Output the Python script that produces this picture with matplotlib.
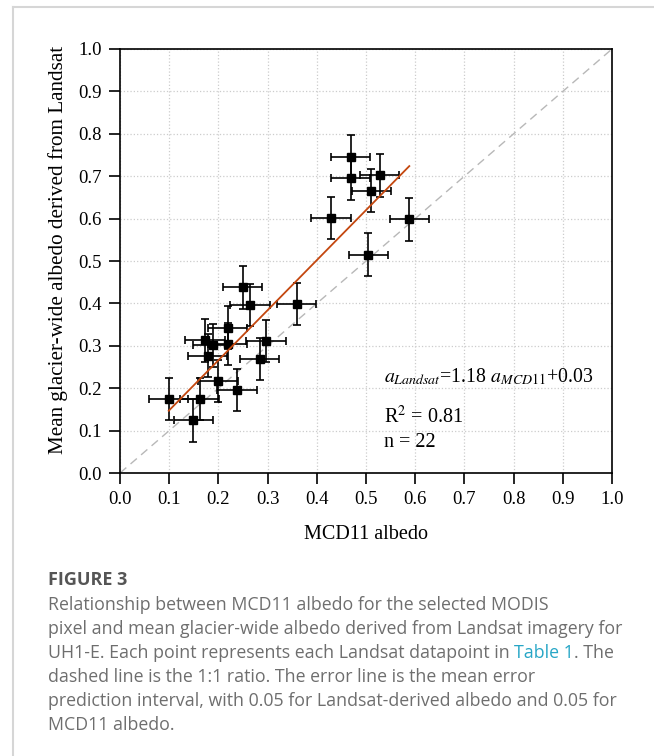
import matplotlib.pyplot as plt
import numpy as np
from matplotlib.lines import Line2D

plt.rcParams['font.family'] = 'Liberation Serif'
plt.rcParams['mathtext.fontset'] = 'stix'

# MCD11 albedo vs mean glacier-wide Landsat albedo (UH1-E)
mcd11 = np.array([0.469, 0.469, 0.528, 0.511, 0.429, 0.588, 0.505, 0.249, 0.264, 0.359,
                  0.219, 0.173, 0.188, 0.219, 0.297, 0.178, 0.284, 0.199, 0.238, 0.099,
                  0.162, 0.149])
landsat = np.array([0.746, 0.695, 0.702, 0.666, 0.602, 0.598, 0.515, 0.438, 0.396, 0.399,
                    0.343, 0.313, 0.301, 0.304, 0.311, 0.277, 0.269, 0.217, 0.196, 0.175,
                    0.174, 0.124])
err_mcd11 = 0.04
err_landsat = 0.05

slope = 1.18
intercept = 0.03
r2 = 0.81

ticks = np.round(np.arange(0, 1.01, 0.1), 1)

fig = plt.figure(figsize=(6.54, 7.56), dpi=100)
ax = fig.add_axes([0.1835, 0.3743, 0.7523, 0.5609])

# 1:1 line
ax.plot([0, 1], [0, 1], ls=(0, (6, 4)), color='#b8b8b8', lw=1.0, zorder=1)

ax.errorbar(mcd11, landsat, xerr=err_mcd11, yerr=err_landsat, fmt='s', color='black',
            ms=5.5, elinewidth=1.2, capsize=3, capthick=1.2, zorder=3)

# fitted line across the data range
xfit = np.array([mcd11.min(), mcd11.max()])
ax.plot(xfit, slope * xfit + intercept, color='#c4470f', lw=1.3, zorder=4)

ax.set_xlim(0, 1)
ax.set_ylim(0, 1)
ax.set_xticks(ticks)
ax.set_yticks(ticks)
ax.xaxis.set_major_formatter('{x:.1f}')
ax.yaxis.set_major_formatter('{x:.1f}')
ax.grid(True, ls=':', color='#cccccc', lw=0.9)
ax.set_axisbelow(True)
ax.tick_params(direction='out', length=8, width=1.2, labelsize=13.5, pad=5)
for s in ax.spines.values():
    s.set_linewidth(1.2)

ax.set_xlabel('MCD11 albedo', fontsize=14.5, labelpad=12)
ax.set_ylabel('Mean glacier-wide albedo derived from Landsat', fontsize=15.2)
ax.yaxis.set_label_coords(-0.106, 0.526)

ax.text(0.537, 0.213, r'$a_{Landsat}$=%.2f $a_{\mathit{MCD11}}$+%.2f' % (slope, intercept),
        fontsize=14.3)
ax.text(0.537, 0.117, r'R$^2$ = %.2f' % r2, fontsize=14.5)
ax.text(0.537, 0.061, 'n = %d' % len(mcd11), fontsize=14.5)

# page frame lines
fig.add_artist(Line2D([13 / 654, 13 / 654], [0, 1 - 7 / 756], transform=fig.transFigure,
                      color='#d6d6d6', lw=1.5))
fig.add_artist(Line2D([13 / 654, 1], [1 - 7 / 756, 1 - 7 / 756], transform=fig.transFigure,
                      color='#d6d6d6', lw=1.5))

# caption
cap_font = dict(family='Open Sans', fontsize=12.8, color='#6e6e6e', va='baseline')
x0 = 48 / 654
fig.text(x0, 1 - 585 / 756, 'FIGURE 3', family='Open Sans', fontsize=13,
         fontweight='bold', color='#555555', va='baseline')
lines = [
    'Relationship between MCD11 albedo for the selected MODIS',
    'pixel and mean glacier-wide albedo derived from Landsat imagery for',
    None,
    'dashed line is the 1:1 ratio. The error line is the mean error',
    'prediction interval, with 0.05 for Landsat-derived albedo and 0.05 for',
    'MCD11 albedo.',
]
base = 610
for i, line in enumerate(lines):
    y = 1 - (base + 24 * i) / 756
    if line is not None:
        fig.text(x0, y, line, **cap_font)
        continue
    # line with the table link in a different colour
    t1 = fig.text(x0, y, 'UH1-E. Each point represents each Landsat datapoint in', **cap_font)
    fig.canvas.draw()
    gap = 4.5 / 654
    x1 = t1.get_window_extent().x1 / fig.bbox.width + gap
    t2 = fig.text(x1, y, 'Table 1', **{**cap_font, 'color': '#27a6c6'})
    fig.canvas.draw()
    x2 = t2.get_window_extent().x1 / fig.bbox.width
    fig.text(x2, y, '. The', **cap_font)

fig.savefig('out.png', dpi=100)
